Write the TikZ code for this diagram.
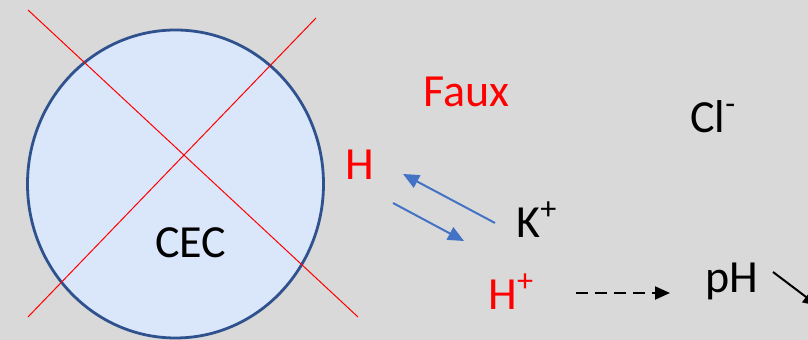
\documentclass[tikz,border=0pt]{standalone}
\usepackage{fontspec}
\setmainfont{Carlito}
\usepackage{xcolor}
\usetikzlibrary{arrows.meta,positioning,shapes.geometric}

\definecolor{bggray}{HTML}{D9D9D9}
\definecolor{cecfill}{HTML}{DAE6FA}
\definecolor{cecline}{HTML}{2F528F}
\definecolor{arrblue}{HTML}{4472C4}

\begin{document}
\begin{tikzpicture}[
  x=0.5pt, y=-0.5pt,
  font=\fontsize{23}{27}\selectfont,
  lbl/.style={anchor=base west, inner sep=0pt},
  redlbl/.style={lbl, text=red},
  cross/.style={red, line width=0.5pt},
  swap/.style={-{Triangle[length=8pt, width=7pt]}, arrblue, line width=1pt},
  arr/.style={-{Triangle[length=7.5pt, width=6.5pt]}, line width=1pt}
]
\fill[bggray] (0,0) rectangle (808,340);
\useasboundingbox (0,0) rectangle (808,340);
% CEC particle
\node[draw=cecline, fill=cecfill, line width=1.4pt, ellipse, minimum width=148pt, minimum height=154pt, inner sep=0pt] (cec) at (175.5,184) {};
\node[lbl] (ceclbl) at (155,258) {CEC};
\draw[cross] (28,10) -- (358,317);
\draw[cross] (316,18) -- (28,317);
% ions
\node[redlbl] (faux) at (423,107) {Faux};
\node[redlbl] (hleft) at (345,180) {H};
\node[lbl] (kion) at (516,238) {K\textsuperscript{+}};
\node[redlbl] (hion) at (488,310) {H\textsuperscript{+}};
\node[lbl] (ph) at (705,293) {pH};
\node[lbl] (clion) at (690,133) {Cl\textsuperscript{-}};
% exchange
\coordinate (kout) at (495,223);
\coordinate (hin) at (403,174);
\coordinate (hout) at (393,203);
\coordinate (kin) at (464,241);
\draw[swap] (kout) -- (hin);
\draw[swap] (hout) -- (kin);
% pH effect
\coordinate (dashstart) at (576,293);
\coordinate (dashend) at (670,293);
\draw[arr, dash pattern=on 6pt off 3.5pt] (dashstart) -- (dashend);
\coordinate (phstart) at (773,272);
\coordinate (phdown) at (818,306);
\draw[arr] (phstart) -- (phdown);
\end{tikzpicture}
\end{document}
